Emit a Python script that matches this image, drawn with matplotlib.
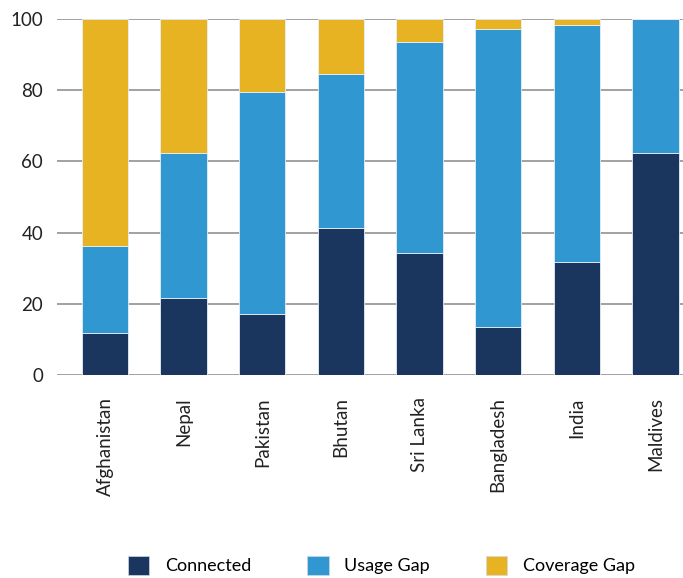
import numpy as np
import matplotlib.pyplot as plt
from matplotlib.patches import Patch

countries = ["Afghanistan", "Nepal", "Pakistan", "Bhutan", "Sri Lanka",
             "Bangladesh", "India", "Maldives"]
connected = [11.9, 21.6, 17.3, 41.4, 34.3, 13.5, 31.7, 62.5]
usage_gap = [24.5, 40.9, 62.3, 43.2, 59.4, 83.6, 66.6, 37.5]
coverage_gap = [63.6, 37.5, 20.4, 15.4, 6.3, 2.9, 1.7, 0.0]

colors = {"Connected": "#1a355e", "Usage Gap": "#3097d1", "Coverage Gap": "#e8b323"}

plt.rcParams["font.family"] = ["Lato", "DejaVu Sans"]

fig = plt.figure(figsize=(6.83, 5.78), dpi=100)
ax = fig.add_axes([0.0835, 0.351, 0.9165, 0.616])

x = np.arange(len(countries))
width = 0.59
bottom = np.zeros(len(countries))
for name, vals in [("Connected", connected), ("Usage Gap", usage_gap),
                   ("Coverage Gap", coverage_gap)]:
    ax.bar(x, vals, width, bottom=bottom, color=colors[name],
           edgecolor="#e6eef6", linewidth=0.6, zorder=3)
    bottom += np.array(vals)

ax.set_xlim(-0.61, 7.35)
ax.set_ylim(0, 100)
ax.set_yticks([0, 20, 40, 60, 80, 100])
ax.yaxis.grid(True, color="#9a9a9a", linewidth=1.3, zorder=0)
ax.set_axisbelow(True)
for s in ax.spines.values():
    s.set_visible(False)

ax.set_xticks(x)
ax.set_xticklabels(countries, rotation=90, fontsize=13.5, color="#222222")
ax.tick_params(axis="x", length=0, pad=16)
ax.tick_params(axis="y", length=0, pad=10, labelsize=13.5, labelcolor="#222222")

handles = [Patch(facecolor=c, edgecolor="#cfd8e3", linewidth=0.5, label=n)
           for n, c in colors.items()]
fig.legend(handles=handles, loc="center", bbox_to_anchor=(0.558, 0.022),
           ncol=3, frameon=False, fontsize=13, handlelength=1.2,
           handleheight=1.2, columnspacing=3.1, handletextpad=0.85)

fig.savefig("out.png", dpi=100)
